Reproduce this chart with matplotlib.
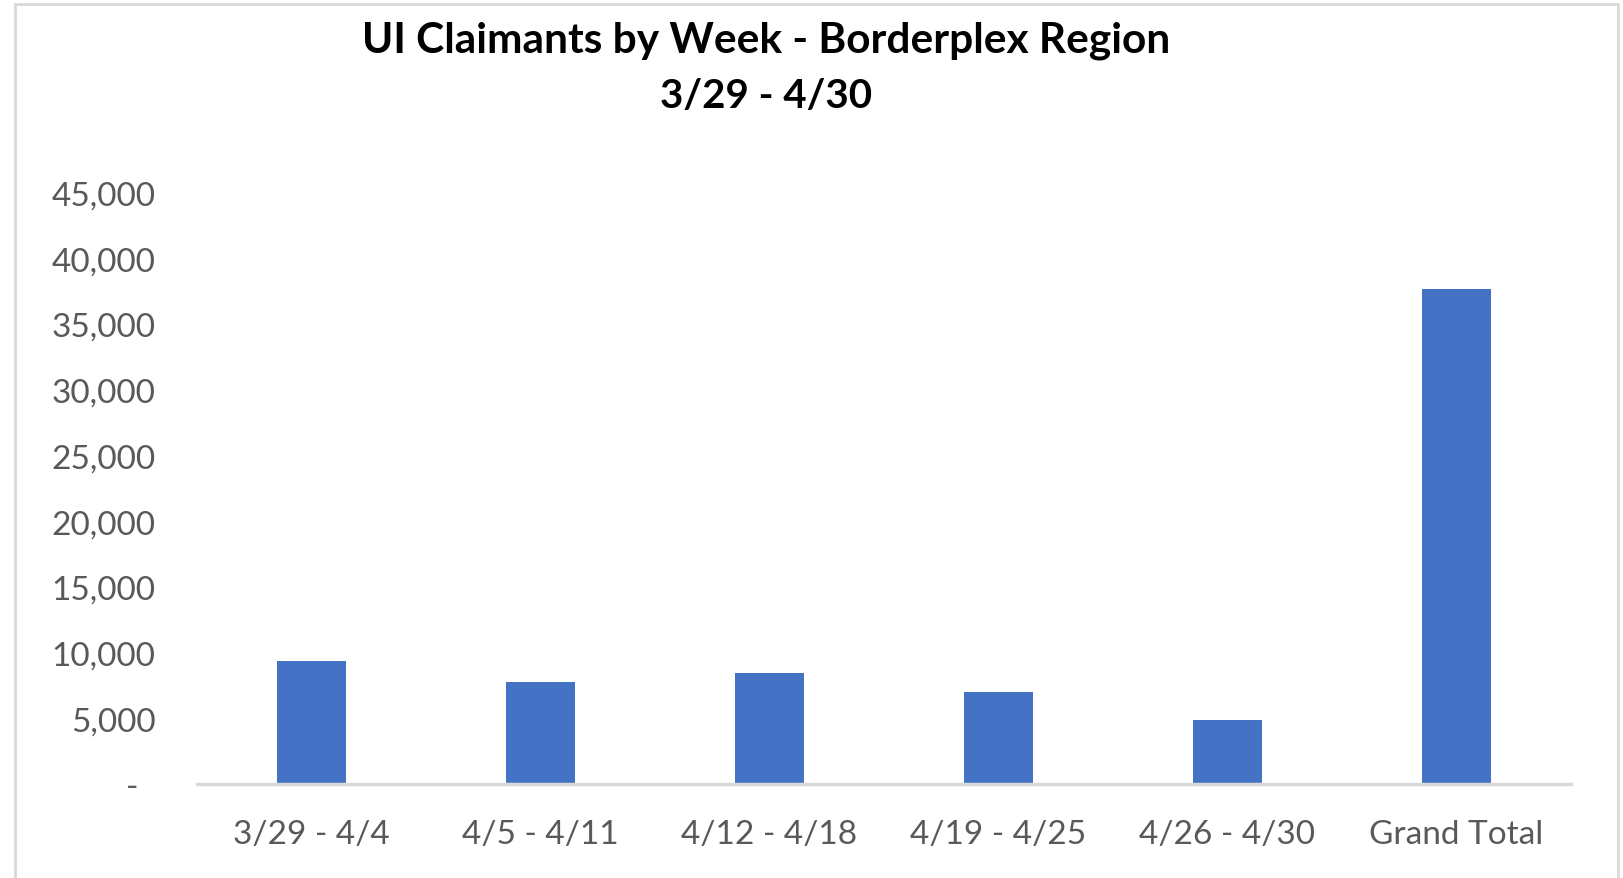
import matplotlib
matplotlib.use("Agg")
import matplotlib.pyplot as plt
from matplotlib.patches import Rectangle
from matplotlib.ticker import FuncFormatter

categories = ["3/29 - 4/4", "4/5 - 4/11", "4/12 - 4/18", "4/19 - 4/25", "4/26 - 4/30", "Grand Total"]
claimants = [9380, 7780, 8460, 7010, 4880, 37700]
yticks = [0, 5000, 10000, 15000, 20000, 25000, 30000, 35000, 40000, 45000]
title_line1 = "UI Claimants by Week - Borderplex Region"
title_line2 = "3/29 - 4/30"

W, H = 1623, 879
fig = plt.figure(figsize=(W / 100, H / 100), dpi=100)
fig.patch.set_facecolor("white")

# chart area border
fig.patches.append(Rectangle((15 / W, -0.01), (1618 - 15) / W, (H - 5) / H + 0.01,
                             transform=fig.transFigure, fill=False,
                             edgecolor="#d9d9d9", linewidth=2))

ax = fig.add_axes([197 / W, 94 / H, (1571 - 197) / W, (785 - 193.6) / H])
x = list(range(len(categories)))
ax.bar(x, claimants, width=0.30, color="#4472c4", zorder=2)
ax.set_xlim(-0.5, len(categories) - 0.5)
ax.set_ylim(0, 45000)
ax.set_yticks(yticks)

def fmt(v, pos):
    return "-  " if v == 0 else f"{int(v):,}"

ax.yaxis.set_major_formatter(FuncFormatter(fmt))
ax.set_xticks(x)
ax.set_xticklabels(categories)

for s in ["top", "right", "left"]:
    ax.spines[s].set_visible(False)
ax.spines["bottom"].set_color("#d9d9d9")
ax.spines["bottom"].set_linewidth(2.5)
ax.tick_params(axis="both", length=0, labelsize=24, labelcolor="#595959")
ax.tick_params(axis="y", pad=30)
ax.tick_params(axis="x", pad=25)
for lbl in ax.get_xticklabels() + ax.get_yticklabels():
    lbl.set_fontfamily("Lato")

fig.text(766 / W, 1 - 41 / H, title_line1, ha="center", va="center",
         fontsize=30.5, fontweight="bold", fontfamily="Lato", color="#000000")
fig.text(766 / W, 1 - 97 / H, title_line2, ha="center", va="center",
         fontsize=29, fontweight="bold", fontfamily="Lato", color="#000000")

fig.savefig("out.png", dpi=100)
